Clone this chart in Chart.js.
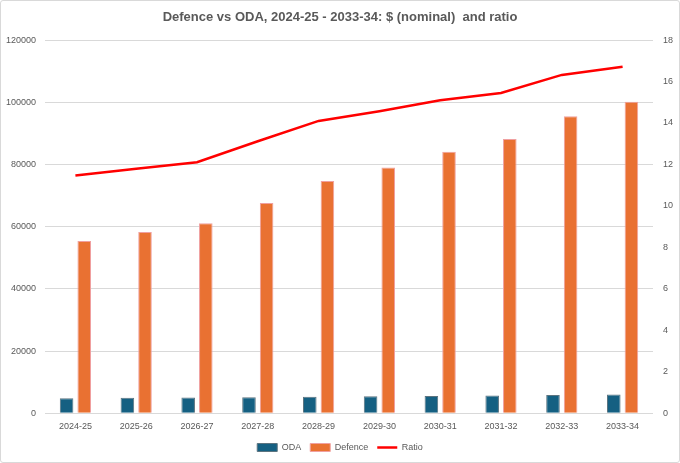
<!DOCTYPE html>
<html>
<head>
<meta charset="utf-8">
<script src="https://cdn.jsdelivr.net/npm/chart.js@4.4.1/dist/chart.umd.min.js"></script>
<style>
  html, body { margin: 0; padding: 0; background: #fff; }
  #wrap {
    width: 680px; height: 463px; box-sizing: border-box;
    border: 1px solid #d9d9d9; border-radius: 3px;
  }
  canvas { display: block; }
</style>
</head>
<body>
<div id="wrap"><canvas id="chart" width="678" height="461"></canvas></div>
<script>
// Years on the x axis
const years = ['2024-25', '2025-26', '2026-27', '2027-28', '2028-29',
               '2029-30', '2030-31', '2031-32', '2032-33', '2033-34'];

// $ (nominal)
const odaValues = [4830, 4940, 5050, 5150, 5300, 5420, 5570, 5710, 5850, 6000];
const defenceValues = [55400, 58300, 61100, 67600, 74700, 79000, 84100, 88200, 95500, 100200];

// Defence / ODA ratio (right axis)
const ratioValues = [11.47, 11.79, 12.11, 13.12, 14.10, 14.57, 15.10, 15.45, 16.32, 16.71];

const leftTicks = [0, 20000, 40000, 60000, 80000, 100000, 120000];
const rightTicks = [0, 2, 4, 6, 8, 10, 12, 14, 16, 18];

const fontFamily = "'Liberation Sans', Arial, sans-serif";
const textGrey = '#595959';

Chart.defaults.font.family = fontFamily;
Chart.defaults.color = textGrey;

const ctx = document.getElementById('chart').getContext('2d');
const myChart = new Chart(ctx, {
    type: 'bar',
    data: {
        labels: years,
        datasets: [{
            label: 'ODA',
            data: odaValues,
            backgroundColor: '#156082',
            borderColor: '#5c7480',
            borderWidth: 1,
            yAxisID: 'y',
            order: 1,
            pointStyle: 'rect',
            barPercentage: 0.77,
            categoryPercentage: 0.58
        }, {
            label: 'Defence',
            data: defenceValues,
            backgroundColor: '#E97132',
            borderColor: '#f0a0a0',
            borderWidth: 1,
            yAxisID: 'y',
            order: 1,
            pointStyle: 'rect',
            barPercentage: 0.77,
            categoryPercentage: 0.58
        }, {
            type: 'line',
            label: 'Ratio',
            data: ratioValues,
            borderColor: '#FF0000',
            backgroundColor: '#FF0000',
            borderWidth: 2.5,
            pointRadius: 0,
            tension: 0,
            fill: false,
            yAxisID: 'y1',
            order: 0,
            pointStyle: 'line'
        }]
    },
    options: {
        responsive: false,
        animation: false,
        layout: { padding: { left: 0, right: 0, top: 0, bottom: 0 } },
        plugins: {
            title: {
                display: true,
                text: 'Defence vs ODA, 2024-25 - 2033-34: $ (nominal)  and ratio',
                color: textGrey,
                font: { size: 13, weight: 'bold', family: fontFamily },
                padding: { top: 8.5, bottom: 15 }
            },
            legend: {
                position: 'bottom',
                labels: {
                    usePointStyle: true,
                    pointStyleWidth: 20,
                    boxWidth: 20,
                    boxHeight: 8,
                    padding: 9,
                    color: textGrey,
                    font: { size: 9 },
                    sort: function(a, b) { return a.datasetIndex - b.datasetIndex; }
                }
            },
            tooltip: { enabled: false }
        },
        scales: {
            x: {
                grid: { display: false, drawTicks: false },
                border: { display: false },
                afterFit: function(scale) { scale.height = scale.height - 6; },
                ticks: { padding: 8, font: { size: 9 }, maxRotation: 0 }
            },
            y: {
                position: 'left',
                min: 0,
                max: 120000,
                afterBuildTicks: function(scale) {
                    scale.ticks = leftTicks.map(function(v) { return { value: v }; });
                },
                afterFit: function(scale) { scale.width = 44; },
                grid: { color: '#d9d9d9', lineWidth: 1, drawTicks: false },
                border: { display: false },
                ticks: {
                    padding: 9,
                    font: { size: 9 },
                    callback: function(v) { return String(v); }
                }
            },
            y1: {
                position: 'right',
                min: 0,
                max: 18,
                afterBuildTicks: function(scale) {
                    scale.ticks = rightTicks.map(function(v) { return { value: v }; });
                },
                afterFit: function(scale) { scale.width = 26; },
                grid: { display: false, drawTicks: false },
                border: { display: false },
                ticks: {
                    padding: 10,
                    font: { size: 9 },
                    callback: function(v) { return String(v); }
                }
            }
        }
    }
});
</script>
</body>
</html>
